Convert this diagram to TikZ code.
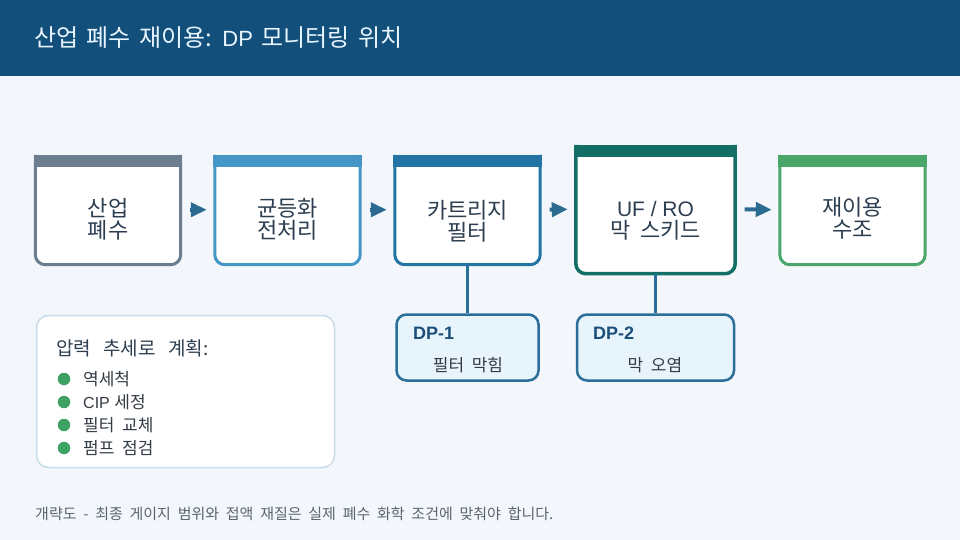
\documentclass[tikz,border=0pt]{standalone}
\usepackage{fontspec}
\setmainfont{Noto Sans CJK KR}
\newfontfamily\lat{Liberation Sans}
\usetikzlibrary{arrows.meta}
\definecolor{bgc}{HTML}{F3F7FB}
\definecolor{titlebar}{HTML}{134F7B}
\definecolor{titletext}{HTML}{EAF6FF}
\definecolor{ink}{HTML}{2C3E50}
\definecolor{cA}{HTML}{6B7D8E}
\definecolor{cB}{HTML}{4496C6}
\definecolor{cC}{HTML}{2274A5}
\definecolor{cD}{HTML}{136F65}
\definecolor{cE}{HTML}{4BA66A}
\definecolor{arrowc}{HTML}{2B6B92}
\definecolor{connc}{HTML}{2A6E9A}
\definecolor{dpfill}{HTML}{E8F4FC}
\definecolor{dplabel}{HTML}{1B4F79}
\definecolor{desc}{HTML}{333B44}
\definecolor{legborder}{HTML}{C8DCE8}
\definecolor{bulletc}{HTML}{3DA263}
\definecolor{footc}{HTML}{5A6570}
\newcommand\fsz[3]{\fontsize{#1}{#2}\selectfont\spaceskip=#3em\relax}
\newcommand\stageframe[3]{%
  \fill[white, rounded corners=10] (#1.north west) -- (#1.south west) -- (#1.south east) -- (#1.north east) -- cycle;
  \draw[#2, line width=#3, rounded corners=10] (#1.north west) -- (#1.south west) -- (#1.south east) -- (#1.north east);
  \fill[#2] ([xshift=-#3/2]#1.north west) rectangle ([xshift=#3/2, yshift=-12pt]#1.north east);
}
\begin{document}
\begin{tikzpicture}[x=1pt,y=-1pt,
  stagebox/.style={inner sep=0, draw=none, minimum width=145, minimum height=109.5},
  stagetext/.style={align=center, text=ink, font=\fsz{22}{22}{0.45}, inner sep=0},
  lineonly/.style={anchor=base, text=ink, inner sep=0},
  flow/.style={arrowc, line width=4, -{Triangle[length=16pt, width=14pt]}},
  conn/.style={connc, line width=3},
  dpbox/.style={draw=connc, fill=dpfill, line width=2.5, rounded corners=10, minimum height=66, inner sep=0},
  dplab/.style={anchor=west, text=dplabel, font=\lat\bfseries\fontsize{18}{20}\selectfont, inner sep=0},
  dpdesc/.style={text=desc, font=\fsz{17}{18}{0.45}, inner sep=0},
  bullet/.style={circle, fill=bulletc, minimum size=12.5, inner sep=0},
  item/.style={anchor=west, text=desc, font=\fsz{17}{18}{0.45}, inner sep=0}]
\useasboundingbox (0,0) rectangle (960,540);
\fill[bgc] (0,0) rectangle (960,540);
\fill[titlebar] (0,0) rectangle (960,76);
\node[anchor=west, text=titletext, font=\fsz{24}{26}{0.35}, inner sep=0] (title) at (34,38) {산업 폐수 재이용: {\lat\fontsize{22}{26}\selectfont DP} 모니터링 위치};

% stage boxes
\node[stagebox] (b1) at (108,209.75) {};
\node[stagebox] (b2) at (287.5,209.75) {};
\node[stagebox] (b3) at (467.5,209.75) {};
\node[stagebox, minimum width=159, minimum height=128.5] (b4) at (655.5,209.25) {};
\node[stagebox] (b5) at (852.5,209.75) {};
\stageframe{b1}{cA}{3}
\stageframe{b2}{cB}{3}
\stageframe{b3}{cC}{3}
\stageframe{b4}{cD}{3.5}
\stageframe{b5}{cE}{3}
\node[stagetext] (t1) at (108,219) {산업\\폐수};
\node[stagetext] (t2) at (287.5,219) {균등화\\전처리};
\node[stagetext] (t3) at (467.5,221) {카트리지\\필터};
\node[lineonly, font=\lat\fontsize{21}{22}\selectfont] (t4a) at (655.5,216.5) {UF / RO};
\node[lineonly, font=\fsz{22}{22}{0.45}] (t4b) at (655.5,238.5) {막 스키드};
\node[stagetext] (t5) at (852.5,218) {재이용\\수조};

% flow arrows
\draw[flow] ([xshift=9.5pt]b1.east) -- ([xshift=-8pt]b2.west);
\draw[flow] ([xshift=9.5pt]b2.east) -- ([xshift=-8pt]b3.west);
\draw[flow] ([xshift=9.5pt]b3.east) -- ([xshift=-8pt]b4.west);
\draw[flow] ([xshift=9.5pt]b4.east) -- ([xshift=-8pt]b5.west);

% DP boxes
\node[dpbox, minimum width=142] (d1) at (467.5,347.5) {};
\node[dpbox, minimum width=157] (d2) at (655.5,347.5) {};
\draw[conn] (b3.south) -- (d1.north);
\draw[conn] (b4.south) -- (d2.north);
\node[dplab] (l1) at (413,333.5) {DP-1};
\node[dplab] (l2) at (593,333.5) {DP-2};
\node[dpdesc] (e1) at (468,365) {필터 막힘};
\node[dpdesc] (e2) at (655,365) {막 오염};

% legend
\node[draw=legborder, fill=white, line width=1.5, rounded corners=12, minimum width=298, minimum height=152, inner sep=0] (lg) at (185.5,391.5) {};
\node[anchor=west, text=ink, font=\fsz{19}{20}{0.65}, inner sep=0] (lgt) at (56,348) {압력 추세로 계획:};
\node[bullet] (p1) at (64,379) {};
\node[bullet] (p2) at (64,402) {};
\node[bullet] (p3) at (64,425) {};
\node[bullet] (p4) at (64,448) {};
\node[item] (i1) at (83,379) {역세척};
\node[item] (i2) at (83,402) {{\lat\fontsize{16}{18}\selectfont CIP}\hspace{4.5pt}세정};
\node[item] (i3) at (83,425) {필터 교체};
\node[item] (i4) at (83,448) {펌프 점검};

% footer
\node[anchor=west, text=footc, font=\fsz{15}{16}{0.45}, inner sep=0] (foot) at (35,514) {개략도 - 최종 게이지 범위와 접액 재질은 실제 폐수 화학 조건에 맞춰야 합니다.};
\end{tikzpicture}
\end{document}
